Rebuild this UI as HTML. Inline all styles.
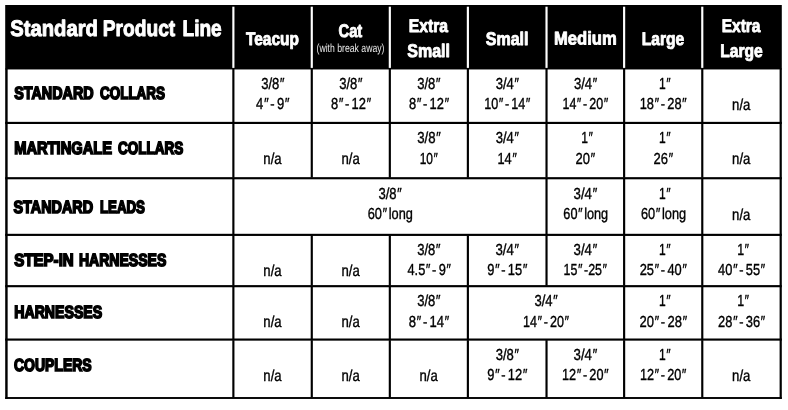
<!DOCTYPE html>
<html><head><meta charset="utf-8"><title>Standard Product Line</title>
<style>
html,body{margin:0;padding:0;background:#fff;}
body{width:788px;height:410px;overflow:hidden;font-family:"Liberation Sans",sans-serif;}
svg{display:block;will-change:transform;font-family:"Liberation Sans",sans-serif;}
</style></head><body>
<svg width="788" height="410" viewBox="0 0 788 410">
<rect width="788" height="410" fill="#fff"/>
<rect x="5.2" y="5.0" width="776.60" height="64.45" fill="#000"/>
<rect x="232.3" y="6.7" width="2.15" height="61.20" fill="#fff"/>
<rect x="310.7" y="6.7" width="2.15" height="61.20" fill="#fff"/>
<rect x="388.75" y="6.7" width="2.15" height="61.20" fill="#fff"/>
<rect x="466.8" y="6.7" width="2.15" height="61.20" fill="#fff"/>
<rect x="545.45" y="6.7" width="2.15" height="61.20" fill="#fff"/>
<rect x="623.05" y="6.7" width="2.15" height="61.20" fill="#fff"/>
<rect x="701.2" y="6.7" width="2.15" height="61.20" fill="#fff"/>
<rect x="5.2" y="68.45" width="2.45" height="330.50" fill="#000"/>
<rect x="779.60" y="68.45" width="2.2" height="330.50" fill="#000"/>
<rect x="5.2" y="397.05" width="776.60" height="1.9" fill="#000"/>
<rect x="5.2" y="121.85" width="776.60" height="2.15" fill="#000"/>
<rect x="5.2" y="177.15" width="776.60" height="2.15" fill="#000"/>
<rect x="5.2" y="233.8" width="776.60" height="2.15" fill="#000"/>
<rect x="5.2" y="285.1" width="776.60" height="2.15" fill="#000"/>
<rect x="5.2" y="338.5" width="776.60" height="2.15" fill="#000"/>
<rect x="232.3" y="68.95" width="2.15" height="53.40" fill="#000"/>
<rect x="232.3" y="123.50" width="2.15" height="54.15" fill="#000"/>
<rect x="232.3" y="178.80" width="2.15" height="55.50" fill="#000"/>
<rect x="232.3" y="235.45" width="2.15" height="50.15" fill="#000"/>
<rect x="232.3" y="286.75" width="2.15" height="52.25" fill="#000"/>
<rect x="232.3" y="340.15" width="2.15" height="57.40" fill="#000"/>
<rect x="310.7" y="68.95" width="2.15" height="53.40" fill="#000"/>
<rect x="310.7" y="123.50" width="2.15" height="54.15" fill="#000"/>
<rect x="310.7" y="235.45" width="2.15" height="50.15" fill="#000"/>
<rect x="310.7" y="286.75" width="2.15" height="52.25" fill="#000"/>
<rect x="310.7" y="340.15" width="2.15" height="57.40" fill="#000"/>
<rect x="388.75" y="68.95" width="2.15" height="53.40" fill="#000"/>
<rect x="388.75" y="123.50" width="2.15" height="54.15" fill="#000"/>
<rect x="388.75" y="235.45" width="2.15" height="50.15" fill="#000"/>
<rect x="388.75" y="286.75" width="2.15" height="52.25" fill="#000"/>
<rect x="388.75" y="340.15" width="2.15" height="57.40" fill="#000"/>
<rect x="466.8" y="68.95" width="2.15" height="53.40" fill="#000"/>
<rect x="466.8" y="123.50" width="2.15" height="54.15" fill="#000"/>
<rect x="466.8" y="235.45" width="2.15" height="50.15" fill="#000"/>
<rect x="466.8" y="286.75" width="2.15" height="52.25" fill="#000"/>
<rect x="466.8" y="340.15" width="2.15" height="57.40" fill="#000"/>
<rect x="545.45" y="68.95" width="2.15" height="53.40" fill="#000"/>
<rect x="545.45" y="123.50" width="2.15" height="54.15" fill="#000"/>
<rect x="545.45" y="178.80" width="2.15" height="55.50" fill="#000"/>
<rect x="545.45" y="235.45" width="2.15" height="50.15" fill="#000"/>
<rect x="545.45" y="340.15" width="2.15" height="57.40" fill="#000"/>
<rect x="623.05" y="68.95" width="2.15" height="53.40" fill="#000"/>
<rect x="623.05" y="123.50" width="2.15" height="54.15" fill="#000"/>
<rect x="623.05" y="178.80" width="2.15" height="55.50" fill="#000"/>
<rect x="623.05" y="235.45" width="2.15" height="50.15" fill="#000"/>
<rect x="623.05" y="286.75" width="2.15" height="52.25" fill="#000"/>
<rect x="623.05" y="340.15" width="2.15" height="57.40" fill="#000"/>
<rect x="701.2" y="68.95" width="2.15" height="53.40" fill="#000"/>
<rect x="701.2" y="123.50" width="2.15" height="54.15" fill="#000"/>
<rect x="701.2" y="178.80" width="2.15" height="55.50" fill="#000"/>
<rect x="701.2" y="235.45" width="2.15" height="50.15" fill="#000"/>
<rect x="701.2" y="286.75" width="2.15" height="52.25" fill="#000"/>
<rect x="701.2" y="340.15" width="2.15" height="57.40" fill="#000"/>
<text transform="translate(10.25,36.00) rotate(0.03) scale(0.8960,1)" font-size="22.6" font-weight="700" fill="#fff" stroke="#fff" stroke-width="0.9" stroke-linejoin="round" vector-effect="non-scaling-stroke">Standard</text>
<text transform="translate(102.74,36.00) rotate(0.03) scale(0.8493,1)" font-size="22.6" font-weight="700" fill="#fff" stroke="#fff" stroke-width="0.9" stroke-linejoin="round" vector-effect="non-scaling-stroke">Product</text>
<text transform="translate(182.47,36.00) rotate(0.03) scale(0.8456,1)" font-size="22.6" font-weight="700" fill="#fff" stroke="#fff" stroke-width="0.9" stroke-linejoin="round" vector-effect="non-scaling-stroke">Line</text>
<text transform="translate(246.01,44.50) rotate(0.03) scale(0.8387,1)" font-size="18.4" font-weight="700" fill="#fff" stroke="#fff" stroke-width="0.8" stroke-linejoin="round" vector-effect="non-scaling-stroke">Teacup</text>
<text transform="translate(338.50,37.40) rotate(0.03) scale(0.8011,1)" font-size="18.4" font-weight="700" fill="#fff" stroke="#fff" stroke-width="0.8" stroke-linejoin="round" vector-effect="non-scaling-stroke">Cat</text>
<text transform="translate(316.49,52.10) rotate(0.03) scale(0.7419,1)" font-size="11.7" font-weight="400" fill="#e6e6e6">(with break away)</text>
<text transform="translate(408.75,31.70) rotate(0.03) scale(0.8528,1)" font-size="18.4" font-weight="700" fill="#fff" stroke="#fff" stroke-width="0.8" stroke-linejoin="round" vector-effect="non-scaling-stroke">Extra</text>
<text transform="translate(407.25,56.70) rotate(0.03) scale(0.8712,1)" font-size="18.4" font-weight="700" fill="#fff" stroke="#fff" stroke-width="0.8" stroke-linejoin="round" vector-effect="non-scaling-stroke">Small</text>
<text transform="translate(485.75,44.50) rotate(0.03) scale(0.8712,1)" font-size="18.4" font-weight="700" fill="#fff" stroke="#fff" stroke-width="0.8" stroke-linejoin="round" vector-effect="non-scaling-stroke">Small</text>
<text transform="translate(553.99,44.50) rotate(0.03) scale(0.9031,1)" font-size="18.4" font-weight="700" fill="#fff" stroke="#fff" stroke-width="0.8" stroke-linejoin="round" vector-effect="non-scaling-stroke">Medium</text>
<text transform="translate(641.73,44.50) rotate(0.03) scale(0.8486,1)" font-size="18.4" font-weight="700" fill="#fff" stroke="#fff" stroke-width="0.8" stroke-linejoin="round" vector-effect="non-scaling-stroke">Large</text>
<text transform="translate(721.75,31.70) rotate(0.03) scale(0.8419,1)" font-size="18.4" font-weight="700" fill="#fff" stroke="#fff" stroke-width="0.8" stroke-linejoin="round" vector-effect="non-scaling-stroke">Extra</text>
<text transform="translate(720.23,56.70) rotate(0.03) scale(0.8487,1)" font-size="18.4" font-weight="700" fill="#fff" stroke="#fff" stroke-width="0.8" stroke-linejoin="round" vector-effect="non-scaling-stroke">Large</text>
<text transform="translate(14.25,99.35) rotate(0.03) scale(0.8152,1)" font-size="17.6" font-weight="700" fill="#000" stroke="#000" stroke-width="1.5" stroke-linejoin="miter" vector-effect="non-scaling-stroke">STANDARD</text>
<text transform="translate(100.00,99.35) rotate(0.03) scale(0.7642,1)" font-size="17.6" font-weight="700" fill="#000" stroke="#000" stroke-width="1.5" stroke-linejoin="miter" vector-effect="non-scaling-stroke">COLLARS</text>
<text transform="translate(14.25,154.40) rotate(0.03) scale(0.8332,1)" font-size="17.6" font-weight="700" fill="#000" stroke="#000" stroke-width="1.5" stroke-linejoin="miter" vector-effect="non-scaling-stroke">MARTINGALE</text>
<text transform="translate(118.00,154.40) rotate(0.03) scale(0.7671,1)" font-size="17.6" font-weight="700" fill="#000" stroke="#000" stroke-width="1.5" stroke-linejoin="miter" vector-effect="non-scaling-stroke">COLLARS</text>
<text transform="translate(13.50,213.10) rotate(0.03) scale(0.8178,1)" font-size="17.6" font-weight="700" fill="#000" stroke="#000" stroke-width="1.5" stroke-linejoin="miter" vector-effect="non-scaling-stroke">STANDARD</text>
<text transform="translate(100.00,213.10) rotate(0.03) scale(0.7544,1)" font-size="17.6" font-weight="700" fill="#000" stroke="#000" stroke-width="1.5" stroke-linejoin="miter" vector-effect="non-scaling-stroke">LEADS</text>
<text transform="translate(14.25,265.90) rotate(0.03) scale(0.8570,1)" font-size="17.6" font-weight="700" fill="#000" stroke="#000" stroke-width="1.5" stroke-linejoin="miter" vector-effect="non-scaling-stroke">STEP-IN</text>
<text transform="translate(79.00,265.90) rotate(0.03) scale(0.7966,1)" font-size="17.6" font-weight="700" fill="#000" stroke="#000" stroke-width="1.5" stroke-linejoin="miter" vector-effect="non-scaling-stroke">HARNESSES</text>
<text transform="translate(14.25,317.70) rotate(0.03) scale(0.8034,1)" font-size="17.6" font-weight="700" fill="#000" stroke="#000" stroke-width="1.5" stroke-linejoin="miter" vector-effect="non-scaling-stroke">HARNESSES</text>
<text transform="translate(14.00,371.30) rotate(0.03) scale(0.7951,1)" font-size="17.6" font-weight="700" fill="#000" stroke="#000" stroke-width="1.5" stroke-linejoin="miter" vector-effect="non-scaling-stroke">COUPLERS</text>
<text transform="translate(261.13,88.60) rotate(0.03) scale(0.8154,1)" font-size="16.0" font-weight="400" fill="#000" stroke="#000" stroke-width="0.35" stroke-linejoin="round" vector-effect="non-scaling-stroke" word-spacing="-1.6">3/8<tspan font-style="italic">″</tspan></text>
<text transform="translate(256.11,109.20) rotate(0.03) scale(0.8166,1)" font-size="16.0" font-weight="400" fill="#000" stroke="#000" stroke-width="0.35" stroke-linejoin="round" vector-effect="non-scaling-stroke" word-spacing="-1.6">4<tspan font-style="italic">″</tspan> - 9<tspan font-style="italic">″</tspan></text>
<text transform="translate(339.25,88.60) rotate(0.03) scale(0.8154,1)" font-size="16.0" font-weight="400" fill="#000" stroke="#000" stroke-width="0.35" stroke-linejoin="round" vector-effect="non-scaling-stroke" word-spacing="-1.6">3/8<tspan font-style="italic">″</tspan></text>
<text transform="translate(330.97,109.20) rotate(0.03) scale(0.8069,1)" font-size="16.0" font-weight="400" fill="#000" stroke="#000" stroke-width="0.35" stroke-linejoin="round" vector-effect="non-scaling-stroke" word-spacing="-1.6">8<tspan font-style="italic">″</tspan> - 12<tspan font-style="italic">″</tspan></text>
<text transform="translate(417.25,88.60) rotate(0.03) scale(0.8153,1)" font-size="16.0" font-weight="400" fill="#000" stroke="#000" stroke-width="0.35" stroke-linejoin="round" vector-effect="non-scaling-stroke" word-spacing="-1.6">3/8<tspan font-style="italic">″</tspan></text>
<text transform="translate(408.97,109.20) rotate(0.03) scale(0.8069,1)" font-size="16.0" font-weight="400" fill="#000" stroke="#000" stroke-width="0.35" stroke-linejoin="round" vector-effect="non-scaling-stroke" word-spacing="-1.6">8<tspan font-style="italic">″</tspan> - 12<tspan font-style="italic">″</tspan></text>
<text transform="translate(495.75,88.60) rotate(0.03) scale(0.8153,1)" font-size="16.0" font-weight="400" fill="#000" stroke="#000" stroke-width="0.35" stroke-linejoin="round" vector-effect="non-scaling-stroke" word-spacing="-1.6">3/4<tspan font-style="italic">″</tspan></text>
<text transform="translate(484.19,109.20) rotate(0.03) scale(0.7880,1)" font-size="16.0" font-weight="400" fill="#000" stroke="#000" stroke-width="0.35" stroke-linejoin="round" vector-effect="non-scaling-stroke" word-spacing="-1.6">10<tspan font-style="italic">″</tspan> - 14<tspan font-style="italic">″</tspan></text>
<text transform="translate(573.88,88.60) rotate(0.03) scale(0.8154,1)" font-size="16.0" font-weight="400" fill="#000" stroke="#000" stroke-width="0.35" stroke-linejoin="round" vector-effect="non-scaling-stroke" word-spacing="-1.6">3/4<tspan font-style="italic">″</tspan></text>
<text transform="translate(562.45,109.20) rotate(0.03) scale(0.7796,1)" font-size="16.0" font-weight="400" fill="#000" stroke="#000" stroke-width="0.35" stroke-linejoin="round" vector-effect="non-scaling-stroke" word-spacing="-1.6">14<tspan font-style="italic">″</tspan> - 20<tspan font-style="italic">″</tspan></text>
<text transform="translate(659.11,88.60) rotate(0.03) scale(0.7562,1)" font-size="16.0" font-weight="400" fill="#000" stroke="#000" stroke-width="0.35" stroke-linejoin="round" vector-effect="non-scaling-stroke" word-spacing="-1.6">1<tspan font-style="italic">″</tspan></text>
<text transform="translate(639.70,109.20) rotate(0.03) scale(0.8002,1)" font-size="16.0" font-weight="400" fill="#000" stroke="#000" stroke-width="0.35" stroke-linejoin="round" vector-effect="non-scaling-stroke" word-spacing="-1.6">18<tspan font-style="italic">″</tspan> - 28<tspan font-style="italic">″</tspan></text>
<text transform="translate(732.10,109.90) rotate(0.03) scale(0.8217,1)" font-size="16.0" font-weight="400" fill="#000" stroke="#000" stroke-width="0.35" stroke-linejoin="round" vector-effect="non-scaling-stroke" word-spacing="-1.6">n/a</text>
<text transform="translate(263.35,164.30) rotate(0.03) scale(0.8216,1)" font-size="16.0" font-weight="400" fill="#000" stroke="#000" stroke-width="0.35" stroke-linejoin="round" vector-effect="non-scaling-stroke" word-spacing="-1.6">n/a</text>
<text transform="translate(341.48,164.30) rotate(0.03) scale(0.8216,1)" font-size="16.0" font-weight="400" fill="#000" stroke="#000" stroke-width="0.35" stroke-linejoin="round" vector-effect="non-scaling-stroke" word-spacing="-1.6">n/a</text>
<text transform="translate(417.25,143.20) rotate(0.03) scale(0.8242,1)" font-size="16.0" font-weight="400" fill="#000" stroke="#000" stroke-width="0.35" stroke-linejoin="round" vector-effect="non-scaling-stroke" word-spacing="-1.6">3/8<tspan font-style="italic">″</tspan></text>
<text transform="translate(419.73,163.60) rotate(0.03) scale(0.7463,1)" font-size="16.0" font-weight="400" fill="#000" stroke="#000" stroke-width="0.35" stroke-linejoin="round" vector-effect="non-scaling-stroke" word-spacing="-1.6">10<tspan font-style="italic">″</tspan></text>
<text transform="translate(495.75,143.20) rotate(0.03) scale(0.8153,1)" font-size="16.0" font-weight="400" fill="#000" stroke="#000" stroke-width="0.35" stroke-linejoin="round" vector-effect="non-scaling-stroke" word-spacing="-1.6">3/4<tspan font-style="italic">″</tspan></text>
<text transform="translate(497.47,163.60) rotate(0.03) scale(0.8000,1)" font-size="16.0" font-weight="400" fill="#000" stroke="#000" stroke-width="0.35" stroke-linejoin="round" vector-effect="non-scaling-stroke" word-spacing="-1.6">14<tspan font-style="italic">″</tspan></text>
<text transform="translate(581.23,143.20) rotate(0.03) scale(0.7566,1)" font-size="16.0" font-weight="400" fill="#000" stroke="#000" stroke-width="0.35" stroke-linejoin="round" vector-effect="non-scaling-stroke" word-spacing="-1.6">1<tspan font-style="italic">″</tspan></text>
<text transform="translate(575.62,163.60) rotate(0.03) scale(0.8099,1)" font-size="16.0" font-weight="400" fill="#000" stroke="#000" stroke-width="0.35" stroke-linejoin="round" vector-effect="non-scaling-stroke" word-spacing="-1.6">20<tspan font-style="italic">″</tspan></text>
<text transform="translate(659.11,143.20) rotate(0.03) scale(0.7562,1)" font-size="16.0" font-weight="400" fill="#000" stroke="#000" stroke-width="0.35" stroke-linejoin="round" vector-effect="non-scaling-stroke" word-spacing="-1.6">1<tspan font-style="italic">″</tspan></text>
<text transform="translate(653.50,163.60) rotate(0.03) scale(0.8099,1)" font-size="16.0" font-weight="400" fill="#000" stroke="#000" stroke-width="0.35" stroke-linejoin="round" vector-effect="non-scaling-stroke" word-spacing="-1.6">26<tspan font-style="italic">″</tspan></text>
<text transform="translate(732.10,164.30) rotate(0.03) scale(0.8217,1)" font-size="16.0" font-weight="400" fill="#000" stroke="#000" stroke-width="0.35" stroke-linejoin="round" vector-effect="non-scaling-stroke" word-spacing="-1.6">n/a</text>
<text transform="translate(573.62,198.50) rotate(0.03) scale(0.8242,1)" font-size="16.0" font-weight="400" fill="#000" stroke="#000" stroke-width="0.35" stroke-linejoin="round" vector-effect="non-scaling-stroke" word-spacing="-1.6">3/4<tspan font-style="italic">″</tspan></text>
<text transform="translate(563.35,219.10) rotate(0.03) scale(0.7931,1)" font-size="16.0" font-weight="400" fill="#000" stroke="#000" stroke-width="0.35" stroke-linejoin="round" vector-effect="non-scaling-stroke" word-spacing="-1.6">60<tspan font-style="italic">″</tspan> long</text>
<text transform="translate(659.11,198.50) rotate(0.03) scale(0.7562,1)" font-size="16.0" font-weight="400" fill="#000" stroke="#000" stroke-width="0.35" stroke-linejoin="round" vector-effect="non-scaling-stroke" word-spacing="-1.6">1<tspan font-style="italic">″</tspan></text>
<text transform="translate(640.98,219.10) rotate(0.03) scale(0.7976,1)" font-size="16.0" font-weight="400" fill="#000" stroke="#000" stroke-width="0.35" stroke-linejoin="round" vector-effect="non-scaling-stroke" word-spacing="-1.6">60<tspan font-style="italic">″</tspan> long</text>
<text transform="translate(732.10,219.80) rotate(0.03) scale(0.8217,1)" font-size="16.0" font-weight="400" fill="#000" stroke="#000" stroke-width="0.35" stroke-linejoin="round" vector-effect="non-scaling-stroke" word-spacing="-1.6">n/a</text>
<text transform="translate(263.35,275.60) rotate(0.03) scale(0.8216,1)" font-size="16.0" font-weight="400" fill="#000" stroke="#000" stroke-width="0.35" stroke-linejoin="round" vector-effect="non-scaling-stroke" word-spacing="-1.6">n/a</text>
<text transform="translate(341.48,275.60) rotate(0.03) scale(0.8216,1)" font-size="16.0" font-weight="400" fill="#000" stroke="#000" stroke-width="0.35" stroke-linejoin="round" vector-effect="non-scaling-stroke" word-spacing="-1.6">n/a</text>
<text transform="translate(417.25,255.00) rotate(0.03) scale(0.8153,1)" font-size="16.0" font-weight="400" fill="#000" stroke="#000" stroke-width="0.35" stroke-linejoin="round" vector-effect="non-scaling-stroke" word-spacing="-1.6">3/8<tspan font-style="italic">″</tspan></text>
<text transform="translate(407.49,274.90) rotate(0.03) scale(0.8002,1)" font-size="16.0" font-weight="400" fill="#000" stroke="#000" stroke-width="0.35" stroke-linejoin="round" vector-effect="non-scaling-stroke" word-spacing="-1.6">4.5<tspan font-style="italic">″</tspan> - 9<tspan font-style="italic">″</tspan></text>
<text transform="translate(495.50,255.00) rotate(0.03) scale(0.8242,1)" font-size="16.0" font-weight="400" fill="#000" stroke="#000" stroke-width="0.35" stroke-linejoin="round" vector-effect="non-scaling-stroke" word-spacing="-1.6">3/4<tspan font-style="italic">″</tspan></text>
<text transform="translate(487.23,274.90) rotate(0.03) scale(0.8069,1)" font-size="16.0" font-weight="400" fill="#000" stroke="#000" stroke-width="0.35" stroke-linejoin="round" vector-effect="non-scaling-stroke" word-spacing="-1.6">9<tspan font-style="italic">″</tspan> - 15<tspan font-style="italic">″</tspan></text>
<text transform="translate(573.62,255.00) rotate(0.03) scale(0.8242,1)" font-size="16.0" font-weight="400" fill="#000" stroke="#000" stroke-width="0.35" stroke-linejoin="round" vector-effect="non-scaling-stroke" word-spacing="-1.6">3/4<tspan font-style="italic">″</tspan></text>
<text transform="translate(563.60,274.90) rotate(0.03) scale(0.7769,1)" font-size="16.0" font-weight="400" fill="#000" stroke="#000" stroke-width="0.35" stroke-linejoin="round" vector-effect="non-scaling-stroke" word-spacing="-1.6">15<tspan font-style="italic">″</tspan> -25<tspan font-style="italic">″</tspan></text>
<text transform="translate(659.11,255.00) rotate(0.03) scale(0.7562,1)" font-size="16.0" font-weight="400" fill="#000" stroke="#000" stroke-width="0.35" stroke-linejoin="round" vector-effect="non-scaling-stroke" word-spacing="-1.6">1<tspan font-style="italic">″</tspan></text>
<text transform="translate(639.72,274.90) rotate(0.03) scale(0.8038,1)" font-size="16.0" font-weight="400" fill="#000" stroke="#000" stroke-width="0.35" stroke-linejoin="round" vector-effect="non-scaling-stroke" word-spacing="-1.6">25<tspan font-style="italic">″</tspan> - 40<tspan font-style="italic">″</tspan></text>
<text transform="translate(737.20,255.00) rotate(0.03) scale(0.7746,1)" font-size="16.0" font-weight="400" fill="#000" stroke="#000" stroke-width="0.35" stroke-linejoin="round" vector-effect="non-scaling-stroke" word-spacing="-1.6">1<tspan font-style="italic">″</tspan></text>
<text transform="translate(718.12,274.90) rotate(0.03) scale(0.8031,1)" font-size="16.0" font-weight="400" fill="#000" stroke="#000" stroke-width="0.35" stroke-linejoin="round" vector-effect="non-scaling-stroke" word-spacing="-1.6">40<tspan font-style="italic">″</tspan> - 55<tspan font-style="italic">″</tspan></text>
<text transform="translate(263.35,327.40) rotate(0.03) scale(0.8216,1)" font-size="16.0" font-weight="400" fill="#000" stroke="#000" stroke-width="0.35" stroke-linejoin="round" vector-effect="non-scaling-stroke" word-spacing="-1.6">n/a</text>
<text transform="translate(341.48,327.40) rotate(0.03) scale(0.8216,1)" font-size="16.0" font-weight="400" fill="#000" stroke="#000" stroke-width="0.35" stroke-linejoin="round" vector-effect="non-scaling-stroke" word-spacing="-1.6">n/a</text>
<text transform="translate(417.25,306.30) rotate(0.03) scale(0.8153,1)" font-size="16.0" font-weight="400" fill="#000" stroke="#000" stroke-width="0.35" stroke-linejoin="round" vector-effect="non-scaling-stroke" word-spacing="-1.6">3/8<tspan font-style="italic">″</tspan></text>
<text transform="translate(408.72,326.70) rotate(0.03) scale(0.8164,1)" font-size="16.0" font-weight="400" fill="#000" stroke="#000" stroke-width="0.35" stroke-linejoin="round" vector-effect="non-scaling-stroke" word-spacing="-1.6">8<tspan font-style="italic">″</tspan> - 14<tspan font-style="italic">″</tspan></text>
<text transform="translate(659.11,306.30) rotate(0.03) scale(0.7562,1)" font-size="16.0" font-weight="400" fill="#000" stroke="#000" stroke-width="0.35" stroke-linejoin="round" vector-effect="non-scaling-stroke" word-spacing="-1.6">1<tspan font-style="italic">″</tspan></text>
<text transform="translate(639.47,326.70) rotate(0.03) scale(0.8119,1)" font-size="16.0" font-weight="400" fill="#000" stroke="#000" stroke-width="0.35" stroke-linejoin="round" vector-effect="non-scaling-stroke" word-spacing="-1.6">20<tspan font-style="italic">″</tspan> - 28<tspan font-style="italic">″</tspan></text>
<text transform="translate(737.20,306.30) rotate(0.03) scale(0.7746,1)" font-size="16.0" font-weight="400" fill="#000" stroke="#000" stroke-width="0.35" stroke-linejoin="round" vector-effect="non-scaling-stroke" word-spacing="-1.6">1<tspan font-style="italic">″</tspan></text>
<text transform="translate(718.10,326.70) rotate(0.03) scale(0.8038,1)" font-size="16.0" font-weight="400" fill="#000" stroke="#000" stroke-width="0.35" stroke-linejoin="round" vector-effect="non-scaling-stroke" word-spacing="-1.6">28<tspan font-style="italic">″</tspan> - 36<tspan font-style="italic">″</tspan></text>
<text transform="translate(263.35,380.70) rotate(0.03) scale(0.8216,1)" font-size="16.0" font-weight="400" fill="#000" stroke="#000" stroke-width="0.35" stroke-linejoin="round" vector-effect="non-scaling-stroke" word-spacing="-1.6">n/a</text>
<text transform="translate(341.48,380.70) rotate(0.03) scale(0.8216,1)" font-size="16.0" font-weight="400" fill="#000" stroke="#000" stroke-width="0.35" stroke-linejoin="round" vector-effect="non-scaling-stroke" word-spacing="-1.6">n/a</text>
<text transform="translate(419.47,380.70) rotate(0.03) scale(0.8217,1)" font-size="16.0" font-weight="400" fill="#000" stroke="#000" stroke-width="0.35" stroke-linejoin="round" vector-effect="non-scaling-stroke" word-spacing="-1.6">n/a</text>
<text transform="translate(495.75,359.50) rotate(0.03) scale(0.8153,1)" font-size="16.0" font-weight="400" fill="#000" stroke="#000" stroke-width="0.35" stroke-linejoin="round" vector-effect="non-scaling-stroke" word-spacing="-1.6">3/8<tspan font-style="italic">″</tspan></text>
<text transform="translate(487.23,380.00) rotate(0.03) scale(0.8069,1)" font-size="16.0" font-weight="400" fill="#000" stroke="#000" stroke-width="0.35" stroke-linejoin="round" vector-effect="non-scaling-stroke" word-spacing="-1.6">9<tspan font-style="italic">″</tspan> - 12<tspan font-style="italic">″</tspan></text>
<text transform="translate(573.62,359.50) rotate(0.03) scale(0.8242,1)" font-size="16.0" font-weight="400" fill="#000" stroke="#000" stroke-width="0.35" stroke-linejoin="round" vector-effect="non-scaling-stroke" word-spacing="-1.6">3/4<tspan font-style="italic">″</tspan></text>
<text transform="translate(562.07,380.00) rotate(0.03) scale(0.7921,1)" font-size="16.0" font-weight="400" fill="#000" stroke="#000" stroke-width="0.35" stroke-linejoin="round" vector-effect="non-scaling-stroke" word-spacing="-1.6">12<tspan font-style="italic">″</tspan> - 20<tspan font-style="italic">″</tspan></text>
<text transform="translate(659.11,359.50) rotate(0.03) scale(0.7562,1)" font-size="16.0" font-weight="400" fill="#000" stroke="#000" stroke-width="0.35" stroke-linejoin="round" vector-effect="non-scaling-stroke" word-spacing="-1.6">1<tspan font-style="italic">″</tspan></text>
<text transform="translate(639.95,380.00) rotate(0.03) scale(0.7921,1)" font-size="16.0" font-weight="400" fill="#000" stroke="#000" stroke-width="0.35" stroke-linejoin="round" vector-effect="non-scaling-stroke" word-spacing="-1.6">12<tspan font-style="italic">″</tspan> - 20<tspan font-style="italic">″</tspan></text>
<text transform="translate(732.10,380.70) rotate(0.03) scale(0.8217,1)" font-size="16.0" font-weight="400" fill="#000" stroke="#000" stroke-width="0.35" stroke-linejoin="round" vector-effect="non-scaling-stroke" word-spacing="-1.6">n/a</text>
<text transform="translate(378.50,198.50) rotate(0.03) scale(0.8153,1)" font-size="16.0" font-weight="400" fill="#000" stroke="#000" stroke-width="0.35" stroke-linejoin="round" vector-effect="non-scaling-stroke" word-spacing="-1.6">3/8<tspan font-style="italic">″</tspan></text>
<text transform="translate(367.73,219.10) rotate(0.03) scale(0.7976,1)" font-size="16.0" font-weight="400" fill="#000" stroke="#000" stroke-width="0.35" stroke-linejoin="round" vector-effect="non-scaling-stroke" word-spacing="-1.6">60<tspan font-style="italic">″</tspan> long</text>
<text transform="translate(534.50,306.30) rotate(0.03) scale(0.8153,1)" font-size="16.0" font-weight="400" fill="#000" stroke="#000" stroke-width="0.35" stroke-linejoin="round" vector-effect="non-scaling-stroke" word-spacing="-1.6">3/4<tspan font-style="italic">″</tspan></text>
<text transform="translate(523.08,326.70) rotate(0.03) scale(0.7836,1)" font-size="16.0" font-weight="400" fill="#000" stroke="#000" stroke-width="0.35" stroke-linejoin="round" vector-effect="non-scaling-stroke" word-spacing="-1.6">14<tspan font-style="italic">″</tspan> - 20<tspan font-style="italic">″</tspan></text>
</svg>
</body></html>
